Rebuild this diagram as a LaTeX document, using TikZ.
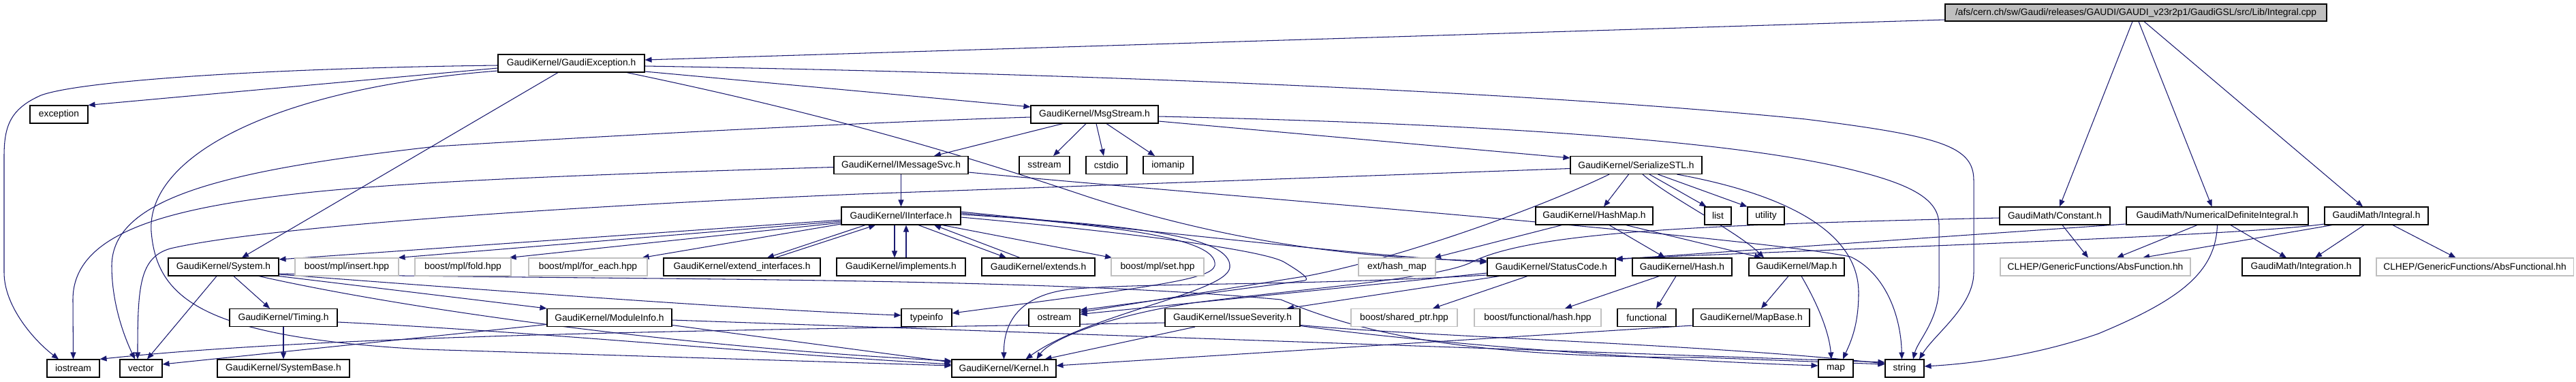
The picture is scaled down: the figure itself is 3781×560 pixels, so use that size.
\documentclass[tikz,border=0pt]{standalone}
\usepackage{fontspec}
\setmainfont{Liberation Sans}
\usetikzlibrary{arrows.meta}
\definecolor{edgec}{HTML}{191970}
\definecolor{greyb}{HTML}{BFBFBF}
\pgfdeclarelayer{bg}
\pgfsetlayers{bg,main}
\begin{document}
\begin{tikzpicture}[x=1pt,y=-1pt,
  nd/.style={draw=black, line width=1.1pt, fill=white, minimum height=26pt, inner xsep=0pt, inner ysep=0pt, font=\fontsize{13.8pt}{15pt}\selectfont},
  gx/.style={nd, draw=greyb},
  ed/.style={draw=edgec, line width=1.05pt, -{Triangle[length=10pt,width=8pt]}}
]
\useasboundingbox (0,0) rectangle (3781,560);
% nodes
\node[nd, fill=greyb, minimum width=560pt, minimum height=25pt] (root) at (3135,18.5) {/afs/cern.ch/sw/Gaudi/releases/GAUDI/GAUDI\_v23r2p1/GaudiGSL/src/Lib/Integral.cpp};
\node[nd, minimum width=215pt] (gexc) at (838.5,93) {GaudiKernel/GaudiException.h};
\node[nd, minimum width=85pt] (exc) at (86.5,168) {exception};
\node[nd, minimum width=187pt] (msg) at (1606.5,168) {GaudiKernel/MsgStream.h};
\node[nd, minimum width=197pt] (imsg) at (1322.5,242.5) {GaudiKernel/IMessageSvc.h};
\node[nd, minimum width=74pt] (sstream) at (1533,242.5) {sstream};
\node[nd, minimum width=60pt] (cstdio) at (1624,242.5) {cstdio};
\node[nd, minimum width=73pt] (iomanip) at (1714.5,242.5) {iomanip};
\node[nd, minimum width=193pt] (sstl) at (2401.5,242.5) {GaudiKernel/SerializeSTL.h};
\node[nd, minimum width=175pt] (iint) at (1322.5,317) {GaudiKernel/IInterface.h};
\node[nd, minimum width=172pt] (hashmap) at (2340,317) {GaudiKernel/HashMap.h};
\node[nd, minimum width=39pt] (list) at (2521.5,317) {list};
\node[nd, minimum width=54pt] (utility) at (2592,317) {utility};
\node[nd, minimum width=162pt] (const) at (3016,317) {GaudiMath/Constant.h};
\node[nd, minimum width=267pt] (ndi) at (3254.5,317) {GaudiMath/NumericalDefiniteIntegral.h};
\node[nd, minimum width=152pt] (integral) at (3488,317) {GaudiMath/Integral.h};
\node[nd, minimum width=162pt] (system) at (328,392) {GaudiKernel/System.h};
\node[gx, minimum width=152pt] (insert) at (509,392) {boost/mpl/insert.hpp};
\node[gx, minimum width=141pt] (fold) at (679.5,392) {boost/mpl/fold.hpp};
\node[gx, minimum width=174pt] (foreach) at (863,392) {boost/mpl/for\_each.hpp};
\node[nd, minimum width=230pt] (extif) at (1089,392) {GaudiKernel/extend\_interfaces.h};
\node[nd, minimum width=189pt] (impl) at (1322.5,392) {GaudiKernel/implements.h};
\node[nd, minimum width=166pt] (extends) at (1524,392) {GaudiKernel/extends.h};
\node[gx, minimum width=136pt] (set) at (1699,392) {boost/mpl/set.hpp};
\node[gx, minimum width=113pt] (exthash) at (2050.5,392) {ext/hash\_map};
\node[nd, minimum width=188pt] (status) at (2277,392) {GaudiKernel/StatusCode.h};
\node[nd, minimum width=146pt] (hash) at (2469,392) {GaudiKernel/Hash.h};
\node[nd, minimum width=140pt] (mapk) at (2637,392) {GaudiKernel/Map.h};
\node[gx, minimum width=279pt] (absf) at (3075.5,392) {CLHEP/GenericFunctions/AbsFunction.hh};
\node[nd, minimum width=173pt] (integ) at (3377.5,392) {GaudiMath/Integration.h};
\node[gx, minimum width=289pt] (absfl) at (3632.5,392) {CLHEP/GenericFunctions/AbsFunctional.hh};
\node[nd, minimum width=158pt] (timing) at (416,466.5) {GaudiKernel/Timing.h};
\node[nd, minimum width=183pt] (modinfo) at (894.5,466.5) {GaudiKernel/ModuleInfo.h};
\node[nd, minimum width=74pt] (typeinfo) at (1360,466.5) {typeinfo};
\node[nd, minimum width=75pt] (ostream) at (1547.5,466.5) {ostream};
\node[nd, minimum width=198pt] (issue) at (1809,466.5) {GaudiKernel/IssueSeverity.h};
\node[gx, minimum width=156pt] (shptr) at (2061,466.5) {boost/shared\_ptr.hpp};
\node[gx, minimum width=186pt] (fhash) at (2257,466.5) {boost/functional/hash.hpp};
\node[nd, minimum width=86pt] (functional) at (2417,466.5) {functional};
\node[nd, minimum width=171pt] (mapbase) at (2570.5,466.5) {GaudiKernel/MapBase.h};
\node[nd, minimum width=77pt] (iostream) at (107.5,541) {iostream};
\node[nd, minimum width=62pt] (vector) at (207,541) {vector};
\node[nd, minimum width=194pt] (sysbase) at (416,541) {GaudiKernel/SystemBase.h};
\node[nd, minimum width=153pt] (kernel) at (1473.5,541) {GaudiKernel/Kernel.h};
\node[nd, minimum width=51pt] (map) at (2694.5,541) {map};
\node[nd, minimum width=57pt] (string) at (2795.5,541) {string};
% edges
\begin{pgfonlayer}{bg}
\fill[white] (0,0) rectangle (3781,560);
% root
\draw[ed] ([yshift=-10.5pt]root.west) -- ([yshift=5pt]gexc.east);
\draw[ed] ([xshift=-5pt]root.south) -- ([xshift=7pt]const.north);
\draw[ed] ([xshift=4pt]root.south) -- ([xshift=-8pt]ndi.north);
\draw[ed] ([xshift=12pt]root.south) -- ([xshift=-20pt]integral.north);
% GaudiException
\draw[ed] ([yshift=-7pt]gexc.west) -- (exc.north east);
\draw[ed] ([yshift=-3pt]gexc.west) .. controls (400,100) and (120,118) .. (60,140) .. controls (15,160) and (6,185) .. (6,230) -- (6,400) .. controls (6,450) and (50,500) .. ([xshift=-21.5pt]iostream.north);
\draw[ed] ([yshift=-11pt]gexc.west) .. controls (400,130) and (215,230) .. (222,340) .. controls (230,440) and (300,495) .. (620,513) -- ([yshift=4pt]kernel.west);
\draw[ed] ([xshift=-19.5pt]gexc.south) -- ([xshift=27pt]system.north);
\draw[ed] ([yshift=-12pt]gexc.east) -- ([yshift=11pt]msg.west);
\draw[ed] ([yshift=-4pt]gexc.east) .. controls (1700,110) and (2300,140) .. (2650,175) .. controls (2850,200) and (2897,215) .. (2897,265) -- (2897,400) .. controls (2897,450) and (2840,490) .. ([xshift=21.5pt]string.north);
\draw[ed] ([xshift=81.5pt]gexc.south) .. controls (1250,175) and (1450,240) .. (1600,290) .. controls (1850,370) and (2050,380) .. ([yshift=9pt]status.west);
% MsgStream
\draw[ed] ([xshift=-46.5pt]msg.south) -- ([xshift=48.5pt]imsg.north);
\draw[ed] ([xshift=-12.5pt]msg.south) -- ([xshift=13pt]sstream.north);
\draw[ed] ([xshift=2.5pt]msg.south) -- ([xshift=-4pt]cstdio.north);
\draw[ed] ([xshift=17.5pt]msg.south) -- ([xshift=-19.5pt]iomanip.north);
\draw[ed] ([yshift=-4pt]msg.west) .. controls (1200,182) and (800,205) .. (640,215) .. controls (330,250) and (165,290) .. (164,390) .. controls (164,450) and (185,500) .. ([xshift=-9pt]vector.north);
\draw[ed] ([yshift=-10pt]msg.east) -- ([yshift=10.5pt]sstl.west);
\draw[ed] ([yshift=-3pt]msg.east) .. controls (2100,180) and (2500,200) .. (2700,245) .. controls (2800,268) and (2846,290) .. (2846,330) -- (2846,420) .. controls (2846,470) and (2815,500) .. ([xshift=12.5pt]string.north);
% IMessageSvc
\draw[ed] (imsg) -- (iint);
\draw[ed] ([yshift=-3pt]imsg.west) .. controls (900,255) and (620,265) .. (450,283) .. controls (250,305) and (107,340) .. (107,440) -- (iostream.north);
\draw[ed] ([yshift=-10.5pt]imsg.east) .. controls (1700,280) and (2550,345) .. (2716,377) .. controls (2765,400) and (2790,460) .. ([xshift=-4pt]string.north);
% IInterface
\draw[ed] ([yshift=-6pt]iint.west) -- ([yshift=11pt]system.east);
\draw[ed] ([yshift=-8pt]iint.west) -- ([xshift=-1pt]insert.north east);
\draw[ed] ([yshift=-10pt]iint.west) -- ([xshift=-3pt]fold.north east);
\draw[ed] ([yshift=-12pt]iint.west) -- ([xshift=-8pt]foreach.north east);
\draw[ed] ([xshift=-52.5pt]iint.south) -- ([xshift=37pt]extif.north);
\draw[ed] ([xshift=49pt]extif.north) -- ([xshift=-37.5pt]iint.south);
\draw[ed] ([xshift=-9.5pt]iint.south) -- ([xshift=-9.5pt]impl.north);
\draw[ed] ([xshift=7.5pt]impl.north) -- ([xshift=7.5pt]iint.south);
\draw[ed] ([xshift=25.5pt]iint.south) -- ([xshift=-47pt]extends.north);
\draw[ed] ([xshift=-27pt]extends.north) -- ([xshift=48.5pt]iint.south);
\draw[ed] ([xshift=60.5pt]iint.south) -- ([xshift=-67pt]set.north);
\draw[ed] ([yshift=4pt]iint.east) .. controls (1600,330) and (1790,345) .. (1783,390) .. controls (1778,410) and (1700,420) .. ([yshift=6.5pt]typeinfo.east);
\draw[ed] ([yshift=2pt]iint.east) .. controls (1650,330) and (1810,345) .. (1805,393) .. controls (1800,430) and (1600,460) .. ([xshift=32pt]kernel.north);
\draw[ed] ([yshift=6pt]iint.east) .. controls (1800,350) and (2000,375) .. ([yshift=7pt]status.west);
\draw[ed] ([yshift=-2pt]iint.east) .. controls (1700,345) and (1860,370) .. (1885,385) .. controls (1905,397) and (1925,410) .. (1915,412) -- ([yshift=11pt]ostream.east);
% SerializeSTL
\draw[ed] ([yshift=-5pt]sstl.west) -- (1260,285) .. controls (900,300) and (400,330) .. (250,365) .. controls (205,378) and (202,420) .. ([xshift=-5pt]vector.north);
\draw[ed] ([xshift=-39.5pt]sstl.south) .. controls (2250,310) and (2050,380) .. (1920,405) -- ([yshift=8pt]ostream.east);
\draw[ed] ([xshift=-11pt]sstl.south) -- ([xshift=14pt]hashmap.north);
\draw[ed] ([xshift=19.5pt]sstl.south) -- ([xshift=3pt]list.north west);
\draw[ed] ([xshift=32pt]sstl.south) -- (utility.north west);
\draw[ed] ([xshift=9.5pt]sstl.south) .. controls (2450,290) and (2550,340) .. ([xshift=-48pt]mapk.north);
\draw[ed] ([xshift=60pt]sstl.south) .. controls (2620,285) and (2728,340) .. (2728,430) .. controls (2728,480) and (2715,505) .. ([xshift=10.5pt]map.north);
% HashMap, Hash, Map, MapBase
\draw[ed] ([xshift=-47.5pt]hashmap.south) -- ([xshift=54.5pt]exthash.north);
\draw[ed] ([xshift=22pt]hashmap.south) -- ([xshift=-25pt]hash.north);
\draw[ed] ([xshift=46.5pt]hashmap.south) -- ([xshift=-52pt]mapk.north);
\draw[ed] ([xshift=-33.5pt]hash.south) -- ([xshift=40pt]fhash.north);
\draw[ed] ([xshift=-9pt]hash.south) -- ([xshift=14pt]functional.north);
\draw[ed] ([xshift=-12pt]mapk.south) -- ([xshift=14.5pt]mapbase.north);
\draw[ed] ([xshift=7pt]mapk.south) .. controls (2670,450) and (2685,490) .. ([xshift=-6.5pt]map.north);
\draw[ed] ([yshift=-11.5pt]mapbase.west) -- ([yshift=4pt]kernel.east);
% StatusCode
\draw[ed] ([xshift=-35pt]status.south) -- ([xshift=42pt]shptr.north);
\draw[ed] ([xshift=-76pt]status.south) -- ([xshift=80pt]issue.north);
\draw[ed] ([yshift=-9pt]status.west) -- ([yshift=5pt]ostream.east);
\draw[ed] ([yshift=-12pt]status.west) .. controls (1900,420) and (1700,415) .. (1580,424) .. controls (1500,430) and (1473,470) .. (kernel.north);
% IssueSeverity
\draw[ed] ([yshift=-7.5pt]issue.west) .. controls (1100,485) and (500,490) .. (iostream.north east);
\draw[ed] ([xshift=-55pt]issue.south) -- ([xshift=60pt]kernel.north);
\draw[ed] ([yshift=-12pt]issue.east) .. controls (2100,505) and (2450,530) .. ([yshift=4pt]map.west);
\draw[ed] ([yshift=-11pt]issue.east) .. controls (2100,495) and (2500,505) .. ([yshift=7pt]string.west);
% System
\draw[ed] ([xshift=-10pt]system.south) -- ([xshift=9pt]vector.north);
\draw[ed] ([xshift=15pt]system.south) -- ([xshift=-20pt]timing.north);
\draw[ed] (system.south east) -- (modinfo.north west);
\draw[ed] ([yshift=-11pt]system.east) .. controls (700,425) and (1100,455) .. ([yshift=3.5pt]typeinfo.west);
\draw[ed] ([xshift=52pt]system.south) .. controls (600,455) and (1000,510) .. ([yshift=11pt]kernel.west);
\draw[ed] ([yshift=-10pt]system.east) .. controls (900,412) and (1500,405) .. (1880,440) .. controls (2000,490) and (2150,525) .. (2500,525) -- ([yshift=6pt]string.west);
% Timing, ModuleInfo
\draw[ed] (timing) -- (sysbase);
\draw[ed] ([yshift=-6.5pt]timing.east) .. controls (800,488) and (1100,518) .. ([yshift=6pt]kernel.west);
\draw[ed] ([yshift=-10pt]modinfo.west) -- ([yshift=6pt]vector.east);
\draw[ed] ([yshift=-3.5pt]modinfo.east) -- ([yshift=9pt]string.west);
\draw[ed] ([yshift=-11pt]modinfo.east) -- ([yshift=9pt]kernel.west);
% GaudiMath
\draw[ed] ([xshift=11pt]const.south) -- ([xshift=-10.5pt]absf.north);
\draw[ed] ([yshift=-3pt]const.west) .. controls (2500,330) and (2250,340) .. (2160,385) .. controls (2110,410) and (1900,425) .. (1750,445) .. controls (1620,465) and (1540,500) .. ([xshift=48pt]kernel.north);
\draw[ed] ([xshift=-29.5pt]ndi.south) -- ([xshift=31.5pt]absf.north);
\draw[ed] ([xshift=19.5pt]ndi.south) -- ([xshift=-21.5pt]integ.north);
\draw[ed] (ndi.south) .. controls (3252,400) and (3200,440) .. (3080,490) .. controls (2980,525) and (2880,535) .. ([yshift=3pt]string.east);
\draw[ed] ([yshift=-12pt]ndi.west) -- ([yshift=11pt]status.east);
\draw[ed] ([yshift=-12pt]integral.west) .. controls (3300,345) and (2800,362) .. ([yshift=12pt]status.east);
\draw[ed] ([xshift=-65pt]integral.south) -- ([xshift=69.5pt]absf.north);
\draw[ed] ([xshift=-18pt]integral.south) -- ([xshift=20.5pt]integ.north);
\draw[ed] ([xshift=24pt]integral.south) -- ([xshift=-28pt]absfl.north);
\end{pgfonlayer}
\end{tikzpicture}
\end{document}
